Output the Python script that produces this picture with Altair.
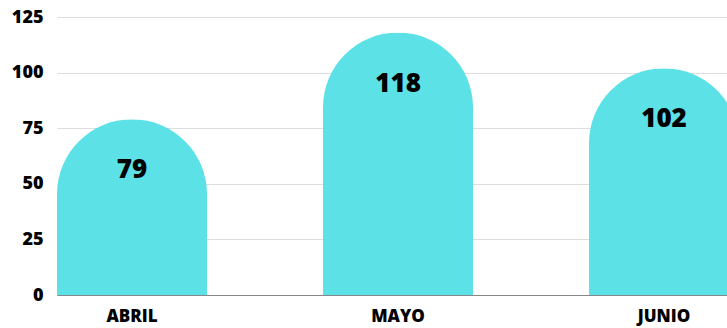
import altair as alt
import pandas as pd

months = ["ABRIL", "MAYO", "JUNIO"]
values = [79, 118, 102]

df = pd.DataFrame({"mes": months, "valor": values})

FONT = "Open Sans"

base = alt.Chart(df).encode(
    x=alt.X(
        "mes:N",
        sort=months,
        scale=alt.Scale(range=[0, 682], paddingInner=0.436, paddingOuter=0),
        axis=alt.Axis(
            title=None, labelAngle=0, ticks=False, domain=True, domainColor="#888888",
            domainWidth=1, labelFont=FONT, labelFontWeight=800, labelFontSize=17,
            labelColor="#000000", labelPadding=13, grid=False,
        ),
    ),
    y=alt.Y(
        "valor:Q",
        scale=alt.Scale(domain=[0, 125], nice=False),
        axis=alt.Axis(
            title=None, values=[0, 25, 50, 75, 100, 125], ticks=False, domain=False,
            labelFont=FONT, labelFontWeight=800, labelFontSize=18,
            labelColor="#000000", labelPadding=14, gridColor="#dddddd", gridWidth=1,
        ),
    ),
)

bars = base.mark_bar(
    color="#5CE1E6", cornerRadiusTopLeft=75, cornerRadiusTopRight=75, clip=False
)

labels = base.mark_text(
    dy=51, baseline="middle", align="center", font=FONT, fontWeight=800,
    fontSize=26, color="#000000"
).encode(text="valor:Q")

chart = (
    (bars + labels)
    .properties(
        width=670, height=278,
        autosize=alt.AutoSizeParams(type="none"),
        padding={"left": 57, "top": 17, "right": 0, "bottom": 33},
        background="#ffffff",
    )
    .configure_view(stroke=None)
)

chart.save("out.html", embed_options={"renderer": "svg", "actions": False})
